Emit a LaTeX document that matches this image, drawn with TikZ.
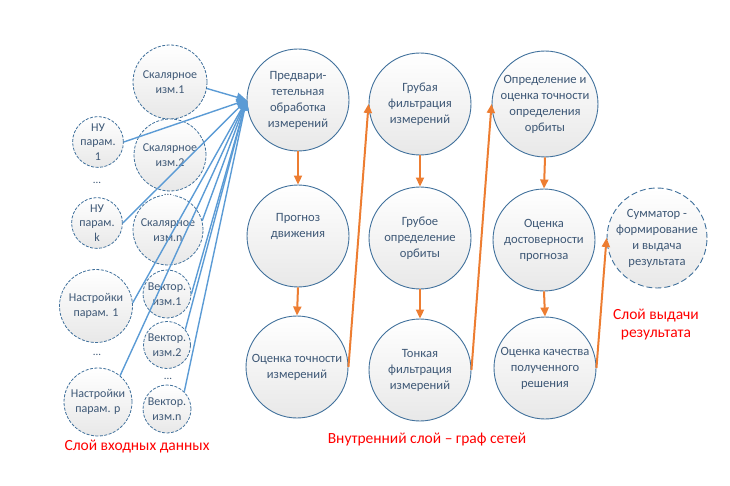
\documentclass[tikz,border=0pt]{standalone}
\usepackage{fontspec}
\setmainfont{Carlito}
\usetikzlibrary{arrows.meta}
\definecolor{edge}{RGB}{65,113,156}
\definecolor{txt}{RGB}{62,88,118}
\definecolor{blu}{RGB}{91,155,213}
\definecolor{org}{RGB}{237,125,49}
\begin{document}
\begin{tikzpicture}[x=1pt,y=-1pt,
  base/.style={circle,inner sep=0pt,align=center,text=txt,top color=white,bottom color=black!9,draw=edge},
  inner/.style={base,minimum size=102pt,line width=0.9pt,font=\fontsize{12.6}{16}\selectfont},
  inp/.style={base,line width=0.8pt,dash pattern=on 3pt off 1.5pt,font=\fontsize{12}{14.5}\selectfont},
  outp/.style={base,minimum size=100pt,line width=0.9pt,dash pattern=on 6pt off 3pt,font=\fontsize{12.6}{16}\selectfont},
  dots/.style={text=txt,font=\fontsize{11}{13}\selectfont,inner sep=1pt},
  bl/.style={draw=blu,line width=1.4pt,-{Triangle[length=10pt,width=9pt]}},
  og/.style={draw=org,line width=2pt,-{Triangle[length=9pt,width=8pt]}},
  lbl/.style={text=red,font=\fontsize{15.5}{18}\selectfont,align=center}]
\path[use as bounding box] (0,0) rectangle (730,486);
% inner layer
\node[inner] (pre) at (298,100) {Предвари-\\тетельная\\обработка\\измерений};
\node[inner] (prog) at (298,236) {Прогноз\\движения\\[6pt]};
\node[inner] (ots) at (297,367) {Оценка точности\\измерений};
\node[inner] (gf) at (420,104) {Грубая\\фильтрация\\измерений};
\node[inner] (go) at (420,238) {Грубое\\определение\\орбиты};
\node[inner] (tf) at (420,370) {Тонкая\\фильтрация\\измерений};
\node[inner] (oo) at (545,104) {Определение и\\оценка точности\\определения\\орбиты};
\node[inner] (od) at (544,240) {Оценка\\достоверности\\прогноза};
\node[inner] (ok) at (545,368) {Оценка качества\\полученного\\решения};
\node[outp] (sum) at (657,238) {Сумматор -\\формирование\\и выдача\\результата};
% input layer
\node[inp,minimum size=74pt] (s1) at (170,82) {Скалярное\\изм.1};
\node[inp,minimum size=72pt] (s2) at (170,155) {Скалярное\\изм.2};
\node[inp,minimum size=70pt] (sn) at (168,230) {Скалярное\\изм.n};
\node[dots,fill=white] (d1) at (168,195) {...};
\node[inp,minimum size=49pt] (nu1) at (98,142) {НУ\\парам.\\1};
\node[dots] (d2) at (97,183) {...};
\node[inp,minimum size=49pt] (nuk) at (97,223) {НУ\\парам.\\k};
\node[inp,minimum size=73pt] (n1) at (96,306) {Настройки\\парам. 1};
\node[dots] (d3) at (97,355) {...};
\node[inp,minimum size=68pt] (np) at (98,402) {Настройки\\парам. p};
\node[inp,minimum size=48pt] (v1) at (167,294) {Вектор.\\изм.1};
\node[inp,minimum size=47pt] (v2) at (167,345) {Вектор.\\изм.2};
\node[dots] (d4) at (168,379) {...};
\node[inp,minimum size=48pt] (vn) at (167,409) {Вектор.\\изм.n};
% blue connectors
\foreach \a in {s1.-10,nu1.east,nuk.east,sn.15,n1.5,np.50,v1.east,v2.40,vn.45}
  \draw[bl] (\a) -- (pre.west);
% orange connectors
\draw[og] (pre.south) -- (prog.north);
\draw[og] (prog.south) -- (ots.north);
\draw[og] (gf.south) -- (go.north);
\draw[og] (go.south) -- (tf.north);
\draw[og] (oo.south) -- (od.north);
\draw[og] (od.south) -- (ok.north);
\draw[og] (ots.east) -- (gf.west);
\draw[og] (tf.east) -- (oo.west);
\draw[og] (ok.east) -- (sum.west);
% labels
\node[lbl] (l1) at (137,447) {Слой входных данных};
\node[lbl] (l2) at (427,440) {Внутренний слой – граф сетей};
\node[lbl] (l3) at (656,325) {Слой выдачи\\результата};
\end{tikzpicture}
\end{document}
